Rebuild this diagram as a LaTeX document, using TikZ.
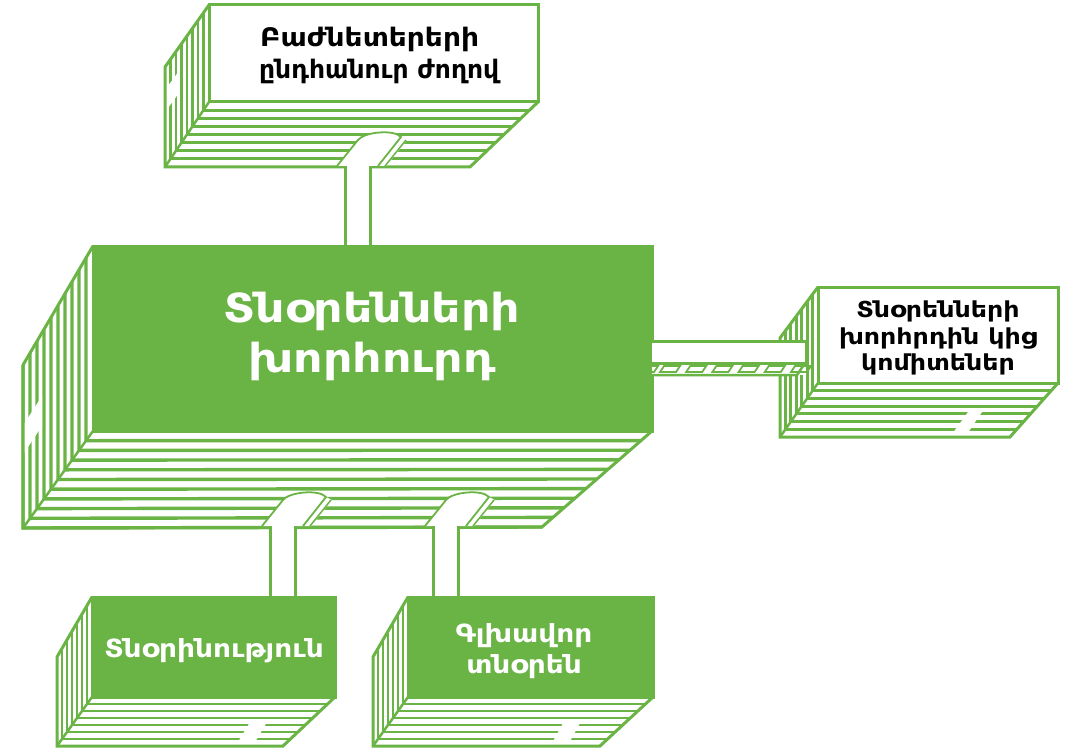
\documentclass[tikz,border=0pt]{standalone}
\usepackage{fontspec}
\setmainfont{DejaVu Sans}
\newfontfamily\armA[FakeStretch=1.15]{DejaVu Sans}
\newfontfamily\armB[FakeStretch=1.1]{DejaVu Sans}
\newfontfamily\armC[FakeStretch=1.12]{DejaVu Sans}
\newfontfamily\armD[FakeStretch=0.98]{DejaVu Sans}
\usetikzlibrary{calc,fit}
\definecolor{gr}{RGB}{106,180,69}
\tikzset{
  edge/.style={draw=gr, line width=3pt, line join=miter},
  gface/.style={draw=gr, fill=gr, line width=3pt, inner sep=0pt, outer sep=0pt},
  wface/.style={draw=gr, fill=white, line width=3pt, inner sep=0pt, outer sep=0pt},
  tubeline/.style={draw=gr, line width=3pt},
  tabfill/.style={fill=white},
  lbl/.style={anchor=base, inner sep=0pt},
  wtext/.style={lbl, text=white},
  btext/.style={lbl, text=black},
}
% stacked sides of a slab: #1 prefix, #2 number of stripes, #3 stripe width
\newcommand\slab[3]{%
  \fill[white] (#1ftl) -- (#1fbl) -- (#1fbr) -- (#1bbr) -- (#1bbl) -- (#1btl) -- cycle;
  \foreach \k in {1,...,#2}{%
    \pgfmathsetmacro\tv{\k/#2}%
    \draw[draw=gr, line width=#3, line join=miter] ($(#1ftl)!\tv!(#1btl)$) -- ($(#1fbl)!\tv!(#1bbl)$) -- ($(#1fbr)!\tv!(#1bbr)$);
  }%
}
\newcommand\slabedge[1]{%
  \draw[edge] (#1ftl) -- (#1btl) -- (#1bbl) -- (#1bbr) -- (#1fbr);
  \draw[draw=gr, line width=2.5pt] (#1fbl) -- (#1bbl);
}
% arch where a tube leaves a slab: #1 base point (bottom-left)
\newcommand\arch[1]{%
  \begin{scope}[shift={#1}]
    \fill[white] (0,0) -- (21,-26) .. controls (27,-34) and (57,-37) .. (64,-29) -- (41,0) -- cycle;
    \fill[white] (64,-29) -- (70,-26) -- (49,0) -- (41,0) -- cycle;
    \draw[draw=gr, line width=1.8pt, line join=round] (0,0) -- (21,-26) .. controls (27,-34) and (57,-37) .. (64,-29) -- (41,0);
    \draw[draw=gr, line width=1.5pt] (69,-26) -- (48,0);
  \end{scope}
}
\begin{document}
\begin{tikzpicture}[x=1pt,y=-1pt]
\useasboundingbox (0,0) rectangle (1071,749);

% ---------- coordinates ----------
% top box
\coordinate (aftl) at (209,5);   \coordinate (aftr) at (538,5);
\coordinate (afbl) at (209,102); \coordinate (afbr) at (538,102);
\coordinate (abtl) at (165,67);  \coordinate (abbl) at (165,167); \coordinate (abbr) at (470,167);
% main box
\coordinate (mftl) at (93,246);  \coordinate (mftr) at (652,246);
\coordinate (mfbl) at (93,431);  \coordinate (mfbr) at (652,431);
\coordinate (mbtl) at (23,365);  \coordinate (mbbl) at (23,528); \coordinate (mbbr) at (542,527);
% right box
\coordinate (rftl) at (818,287); \coordinate (rftr) at (1058,287);
\coordinate (rfbl) at (818,383); \coordinate (rfbr) at (1058,383);
\coordinate (rbtl) at (780,338); \coordinate (rbbl) at (780,437); \coordinate (rbbr) at (1010,437);
% lower left box
\coordinate (pftl) at (92,597);  \coordinate (pftr) at (335,597);
\coordinate (pfbl) at (92,697);  \coordinate (pfbr) at (335,697);
\coordinate (pbtl) at (57,657);  \coordinate (pbbl) at (57,746); \coordinate (pbbr) at (283,746);
% lower right box
\coordinate (qftl) at (408,597); \coordinate (qftr) at (653,597);
\coordinate (qfbl) at (408,697); \coordinate (qfbr) at (653,697);
\coordinate (qbtl) at (373,657); \coordinate (qbbl) at (373,746); \coordinate (qbbr) at (600,746);

% ---------- top box ----------
\slab{a}{8}{2.8pt}
\fill[tabfill] (165,90) -- (179,71) -- (179,93) -- (165,112) -- cycle;
\slabedge{a}
\arch{(337,166)}
\node[wface, fit=(aftl)(afbr)] (shareholders) {};
\node[btext, anchor=base west, font=\armB\bfseries\fontsize{25.5}{30}\selectfont] (sh1) at (260,47) {Բաժնետերերի};
\node[btext, anchor=base west, font=\armD\bfseries\fontsize{25.5}{30}\selectfont] (sh2) at (259,79) {ընդհանուր ժողով};

% tube top -> main
\fill[white] (345,166) rectangle (370,246);
\draw[tubeline] (345,166) -- (345,246);
\draw[tubeline] (370,166) -- (370,246);

% ---------- main box ----------
\slab{m}{10}{3.4pt}
\fill[tabfill] (24,424) -- (42,396) -- (42,426) -- (24,453) -- cycle;
\slabedge{m}
\arch{(262,526)}
\arch{(425,526)}
\node[gface, fit=(mftl)(mfbr)] (board) {};
\node[wtext, font=\armA\bfseries\fontsize{40}{50}\selectfont] (b1) at (372,322) {Տնօրենների};
\node[wtext, font=\armA\bfseries\fontsize{40}{50}\selectfont] (b2) at (372,372) {խորհուրդ};

% tubes main -> lower boxes
\fill[white] (270,526) rectangle (295,597);
\draw[tubeline] (270,526) -- (270,597);
\draw[tubeline] (295,526) -- (295,597);
\fill[white] (433,526) rectangle (458,597);
\draw[tubeline] (433,526) -- (433,597);
\draw[tubeline] (458,526) -- (458,597);

% ---------- lower left box ----------
\slab{p}{7}{2.8pt}
\fill[tabfill] (250,722) -- (267,722) -- (252,747) -- (235,747) -- cycle;
\slabedge{p}
\node[gface, fit=(pftl)(pfbr)] (management) {};
\node[wtext, font=\armC\bfseries\fontsize{25}{31}\selectfont] (mg) at (214,657) {Տնօրինություն};

% ---------- lower right box ----------
\slab{q}{7}{2.8pt}
\fill[tabfill] (563,723) -- (580,723) -- (567,747) -- (550,747) -- cycle;
\slabedge{q}
\node[gface, fit=(qftl)(qfbr)] (ceo) {};
\node[wtext, font=\armC\bfseries\fontsize{25}{31}\selectfont] (ceo1) at (524,642) {Գլխավոր};
\node[wtext, font=\armC\bfseries\fontsize{25}{31}\selectfont] (ceo2) at (524,673) {տնօրեն};

% ---------- right box ----------
\slab{r}{7}{2.8pt}
\fill[tabfill] (968,412) -- (982,412) -- (965,437) -- (950,437) -- cycle;
\slabedge{r}

% connector main -> right box
\fill[white] (652,341) rectangle (806,375);
\draw[tubeline] (652,341) -- (806,341) -- (806,363);
\draw[tubeline] (652,363) -- (806,363);
\draw[draw=gr, line width=2.5pt, line join=miter] (652,375) -- (797,375) -- (805,363);
\draw[draw=gr, line width=1.8pt] (652,366) -- (658,366) -- (654,372) -- (652,372);
\foreach \i in {0,...,5}{
  \draw[draw=gr, line width=1.8pt, line join=miter] ({660+26.2*\i},372) -- ++(16,0) -- ++(4,-6) -- ++(-16,0) -- cycle;
}

\node[wface, fit=(rftl)(rfbr)] (committees) {};
\node[btext, font=\armA\bfseries\fontsize{22}{27}\selectfont] (c1) at (938,317) {Տնօրենների};
\node[btext, font=\armA\bfseries\fontsize{22}{27}\selectfont] (c2) at (938,344) {խորհրդին կից};
\node[btext, font=\armA\bfseries\fontsize{22}{27}\selectfont] (c3) at (938,370) {կոմիտեներ};
\end{tikzpicture}
\end{document}
